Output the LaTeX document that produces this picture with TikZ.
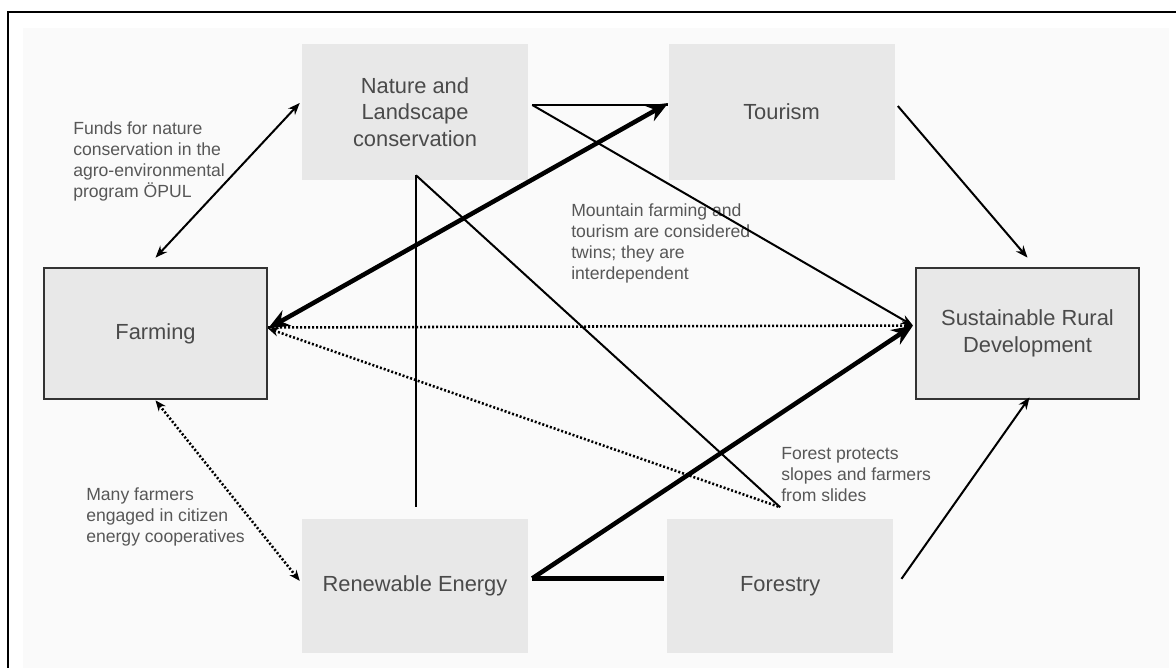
\documentclass[tikz,border=0pt]{standalone}
\usepackage{fontspec}
\setmainfont{Liberation Sans}
\usetikzlibrary{arrows.meta, positioning, calc}
\definecolor{boxgris}{HTML}{E8E8E8}
\definecolor{fondgris}{HTML}{FAFAFA}
\definecolor{textegris}{HTML}{4A4A4A}
\definecolor{notegris}{HTML}{575757}
\definecolor{bordgris}{HTML}{333333}

\begin{document}
\begin{tikzpicture}[x=0.75pt, y=-0.75pt,
		bloc/.style={rectangle, fill=boxgris, minimum width=169.5pt, minimum height=102pt, inner sep=2pt, align=center, text=textegris, font=\fontsize{16.4pt}{20pt}\selectfont},
		cadre/.style={bloc, draw=bordgris, line width=1.8pt, minimum width=167pt, minimum height=98.5pt},
		note/.style={anchor=west, align=left, inner sep=0pt, text=notegris, font=\fontsize{13.2pt}{15.75pt}\selectfont},
		fine/.style={line width=1.5pt, >={Stealth[length=9pt, width=7pt]}},
		epais/.style={line width=3.4pt, >={Stealth[length=16pt, width=13pt]}},
		pointille/.style={line width=1.9pt, dash pattern=on 1.5pt off 1.5pt, >={Stealth[length=8pt, width=6.5pt]}}]
		\useasboundingbox (0,0) rectangle (1176,667);
		
		% Fond et cadre
		\fill[fondgris] (23,28) rectangle (1169,690);
		\draw[line width=1.5pt] (8,12) rectangle (1200,700);
		
		% Noeuds
		\node[bloc] (nat) at (415,112) {Nature and\\Landscape\\conservation};
		\node[bloc, right=105pt of nat] (tour) {Tourism};
		\node[cadre] (farm) at (155.5,333.5) {Farming};
		\node[cadre] (sus) at (1027.5,333.5) {Sustainable Rural\\Development};
		\node[bloc, below=253.5pt of nat, minimum height=101pt] (ren) {Renewable Energy};
		\node[bloc, right=104pt of ren, minimum height=101pt] (fore) {Forestry};
		
		% Notes
		\node[note] (fonds) at (73,161.5) {Funds for nature\\conservation in the\\agro-environmental\\program ÖPUL};
		\node[note] (jumeaux) at (571,243.5) {Mountain farming and\\tourism are considered\\twins; they are\\interdependent};
		\node[note] (coop) at (86,517) {Many farmers\\engaged in citizen\\energy cooperatives};
		\node[note] (foret) at (781,475) {Forest protects\\slopes and farmers\\from slides};
		
		% Flèches
		\draw[fine, <->] ($(farm.north)+(0,-9)$) -- ($(nat.west)+(-2,-9)$);
		\draw[pointille, <->] (farm.south) -- ($(ren.west)+(-2,-5)$);
		\draw[fine, ->] ($(tour.east)+(3,-6)$) -- ($(sus.north)+(0,-9)$);
		\draw[fine, ->] ($(fore.east)+(8,-7)$) -- ($(sus.south)+(2,-3)$);
		\draw[fine] ($(nat.east)+(4,-7)$) -- ($(tour.west)+(0,-7)$);
		\draw[fine, ->] ($(nat.east)+(4,-7)$) -- ($(sus.west)+(-2,-8)$);
		\draw[fine] ($(nat.south)+(1,-5)$) -- ($(ren.north)+(1,-11)$);
		\draw[fine] ($(nat.south)+(1,-5)$) -- ($(fore.north)+(0,-11)$);
		\draw[pointille, ->] ($(farm.east)+(0,-6)$) -- ($(sus.west)+(-2,-8)$);
		\draw[pointille, <-] ($(farm.east)+(0,-5)$) -- ($(fore.north)+(0,-11)$);
		\draw[epais, <->] ($(farm.east)+(0,-5)$) -- ($(tour.west)+(0,-9)$);
		\draw[epais, ->] ($(ren.east)+(4,-7.5)$) -- ($(sus.west)+(-2,-8)$);
		\draw[epais] ($(ren.east)+(4,-7.5)$) -- ($(fore.west)+(-3,-7.5)$);
		
	\end{tikzpicture}
\end{document}
